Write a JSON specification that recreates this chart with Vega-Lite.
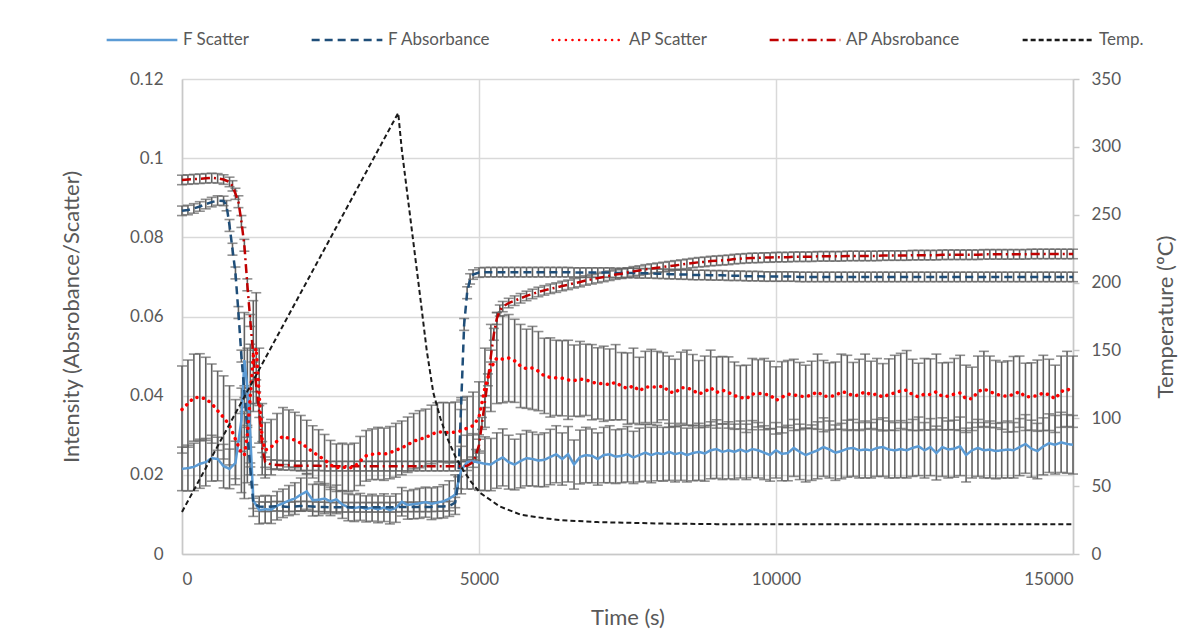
{
"$schema": "https://vega.github.io/schema/vega-lite/v6.json",
"width": 891, "height": 475,
"autosize": "none",
"padding": {"left": 182, "top": 79, "right": 118, "bottom": 79},
"background": "white",
"config": {
  "view": {"stroke": null},
  "font": "Lato",
  "axis": {"labelFont": "Lato", "titleFont": "Lato", "labelFontSize": 17, "labelColor": "#595959", "titleFontSize": 22, "titleFontWeight": "normal", "titleColor": "#595959", "gridColor": "#d9d9d9", "gridWidth": 1.5, "domainColor": "#c8c8c8", "domainWidth": 1.5, "tickColor": "#c8c8c8", "tickWidth": 1.5},
  "legend": {"orient": "none", "legendX": -77, "legendY": -76, "direction": "horizontal", "symbolType": "stroke", "symbolSize": 5000, "symbolStrokeWidth": 2.5, "labelFontSize": 17, "labelColor": "#595959", "labelFont": "Lato", "columnPadding": 56, "labelOffset": 4, "padding": 0, "title": null}
},
"data": {"values": [
{"t":0,"s":"FS","v":0.0215,"e":0.0055},{"t":100,"s":"FS","v":0.0217,"e":0.0058},{"t":200,"s":"FS","v":0.022,"e":0.006},{"t":300,"s":"FS","v":0.0228,"e":0.0062},{"t":400,"s":"FS","v":0.0232,"e":0.006},{"t":500,"s":"FS","v":0.0242,"e":0.0058},{"t":600,"s":"FS","v":0.024,"e":0.0055},{"t":700,"s":"FS","v":0.0222,"e":0.0055},{"t":800,"s":"FS","v":0.0215,"e":0.005},{"t":900,"s":"FS","v":0.023,"e":0.0055},{"t":1000,"s":"FS","v":0.0339,"e":0.008},{"t":1050,"s":"FS","v":0.049,"e":0.012},{"t":1100,"s":"FS","v":0.042,"e":0.01},{"t":1150,"s":"FS","v":0.03,"e":0.008},{"t":1200,"s":"FS","v":0.0135,"e":0.004},{"t":1300,"s":"FS","v":0.0111,"e":0.0035},{"t":1400,"s":"FS","v":0.0113,"e":0.0035},{"t":1500,"s":"FS","v":0.0112,"e":0.0035},{"t":1600,"s":"FS","v":0.0122,"e":0.0036},{"t":1700,"s":"FS","v":0.0128,"e":0.0036},{"t":1800,"s":"FS","v":0.0135,"e":0.0038},{"t":1900,"s":"FS","v":0.014,"e":0.004},{"t":2000,"s":"FS","v":0.015,"e":0.0042},{"t":2100,"s":"FS","v":0.0158,"e":0.0045},{"t":2200,"s":"FS","v":0.0136,"e":0.004},{"t":2300,"s":"FS","v":0.0137,"e":0.004},{"t":2400,"s":"FS","v":0.014,"e":0.0038},{"t":2500,"s":"FS","v":0.0133,"e":0.0036},{"t":2600,"s":"FS","v":0.0138,"e":0.0036},{"t":2700,"s":"FS","v":0.0125,"e":0.0035},{"t":2800,"s":"FS","v":0.0118,"e":0.0034},{"t":2900,"s":"FS","v":0.0116,"e":0.0034},{"t":3000,"s":"FS","v":0.0119,"e":0.0034},{"t":3100,"s":"FS","v":0.0114,"e":0.0033},{"t":3200,"s":"FS","v":0.0117,"e":0.0034},{"t":3300,"s":"FS","v":0.0113,"e":0.0034},{"t":3400,"s":"FS","v":0.0117,"e":0.0035},{"t":3500,"s":"FS","v":0.0111,"e":0.0035},{"t":3600,"s":"FS","v":0.0116,"e":0.0036},{"t":3700,"s":"FS","v":0.0132,"e":0.0036},{"t":3800,"s":"FS","v":0.0124,"e":0.0036},{"t":3900,"s":"FS","v":0.0126,"e":0.0037},{"t":4000,"s":"FS","v":0.0128,"e":0.0038},{"t":4100,"s":"FS","v":0.0131,"e":0.0038},{"t":4200,"s":"FS","v":0.0127,"e":0.004},{"t":4300,"s":"FS","v":0.013,"e":0.004},{"t":4400,"s":"FS","v":0.0133,"e":0.0042},{"t":4500,"s":"FS","v":0.014,"e":0.0045},{"t":4600,"s":"FS","v":0.015,"e":0.005},{"t":4700,"s":"FS","v":0.0212,"e":0.006},
{"t":4800,"s":"FS","v":0.0232,"e":0.0068},{"t":4900,"s":"FS","v":0.0234,"e":0.007},{"t":5000,"s":"FS","v":0.0231,"e":0.007},{"t":5100,"s":"FS","v":0.0228,"e":0.0068},{"t":5200,"s":"FS","v":0.0226,"e":0.0066},{"t":5300,"s":"FS","v":0.0236,"e":0.007},{"t":5400,"s":"FS","v":0.0244,"e":0.0072},{"t":5500,"s":"FS","v":0.0232,"e":0.0068},{"t":5600,"s":"FS","v":0.0226,"e":0.0064},{"t":5700,"s":"FS","v":0.0235,"e":0.0068},{"t":5800,"s":"FS","v":0.0242,"e":0.007},{"t":5900,"s":"FS","v":0.024,"e":0.0068},{"t":6000,"s":"FS","v":0.0236,"e":0.0066},{"t":6100,"s":"FS","v":0.0238,"e":0.0068},{"t":6200,"s":"FS","v":0.0245,"e":0.007},{"t":6300,"s":"FS","v":0.0252,"e":0.0072},{"t":6400,"s":"FS","v":0.024,"e":0.0066},{"t":6500,"s":"FS","v":0.0252,"e":0.007},{"t":6600,"s":"FS","v":0.0226,"e":0.0062},{"t":6700,"s":"FS","v":0.0245,"e":0.0068},{"t":6800,"s":"FS","v":0.025,"e":0.007},{"t":6900,"s":"FS","v":0.0248,"e":0.0068},{"t":7000,"s":"FS","v":0.024,"e":0.0066},{"t":7100,"s":"FS","v":0.025,"e":0.007},{"t":7200,"s":"FS","v":0.0252,"e":0.0072},{"t":7300,"s":"FS","v":0.0246,"e":0.0068},{"t":7400,"s":"FS","v":0.0248,"e":0.0068},{"t":7500,"s":"FS","v":0.0252,"e":0.007},{"t":7600,"s":"FS","v":0.0244,"e":0.0066},{"t":7700,"s":"FS","v":0.025,"e":0.0068},{"t":7800,"s":"FS","v":0.0256,"e":0.0072},{"t":7900,"s":"FS","v":0.025,"e":0.007},{"t":8000,"s":"FS","v":0.0255,"e":0.007},{"t":8100,"s":"FS","v":0.0252,"e":0.0068},{"t":8200,"s":"FS","v":0.0258,"e":0.0072},{"t":8300,"s":"FS","v":0.0252,"e":0.007},{"t":8400,"s":"FS","v":0.0256,"e":0.007},{"t":8500,"s":"FS","v":0.025,"e":0.0068},{"t":8600,"s":"FS","v":0.0255,"e":0.007},{"t":8700,"s":"FS","v":0.0258,"e":0.0072},{"t":8800,"s":"FS","v":0.0254,"e":0.007},{"t":8900,"s":"FS","v":0.0262,"e":0.0072},{"t":9000,"s":"FS","v":0.0265,"e":0.0074},{"t":9100,"s":"FS","v":0.0258,"e":0.007},{"t":9200,"s":"FS","v":0.0262,"e":0.0072},{"t":9300,"s":"FS","v":0.0258,"e":0.007},{"t":9400,"s":"FS","v":0.0264,"e":0.0072},{"t":9500,"s":"FS","v":0.0258,"e":0.007},{"t":9600,"s":"FS","v":0.0265,"e":0.0072},{"t":9700,"s":"FS","v":0.0262,"e":0.007},{"t":9800,"s":"FS","v":0.0256,"e":0.0068},{"t":9900,"s":"FS","v":0.025,"e":0.0066},{"t":10000,"s":"FS","v":0.0262,"e":0.007},{"t":10100,"s":"FS","v":0.0253,"e":0.0068},{"t":10200,"s":"FS","v":0.0255,"e":0.007},{"t":10300,"s":"FS","v":0.0268,"e":0.0072},{"t":10400,"s":"FS","v":0.0258,"e":0.007},{"t":10500,"s":"FS","v":0.025,"e":0.0068},{"t":10600,"s":"FS","v":0.0256,"e":0.007},{"t":10700,"s":"FS","v":0.0262,"e":0.0072},{"t":10800,"s":"FS","v":0.027,"e":0.0074},{"t":10900,"s":"FS","v":0.0264,"e":0.0072},{"t":11000,"s":"FS","v":0.0256,"e":0.007},{"t":11100,"s":"FS","v":0.026,"e":0.007},{"t":11200,"s":"FS","v":0.0266,"e":0.0072},{"t":11300,"s":"FS","v":0.0268,"e":0.0072},{"t":11400,"s":"FS","v":0.0262,"e":0.007},{"t":11500,"s":"FS","v":0.0264,"e":0.0072},{"t":11600,"s":"FS","v":0.0262,"e":0.007},{"t":11700,"s":"FS","v":0.0268,"e":0.0072},{"t":11800,"s":"FS","v":0.027,"e":0.0074},{"t":11900,"s":"FS","v":0.0264,"e":0.0072},{"t":12000,"s":"FS","v":0.0262,"e":0.007},{"t":12100,"s":"FS","v":0.0265,"e":0.0072},{"t":12200,"s":"FS","v":0.0262,"e":0.007},{"t":12300,"s":"FS","v":0.0268,"e":0.0072},{"t":12400,"s":"FS","v":0.0272,"e":0.0074},{"t":12500,"s":"FS","v":0.0262,"e":0.007},{"t":12600,"s":"FS","v":0.027,"e":0.0072},{"t":12700,"s":"FS","v":0.0255,"e":0.0068},{"t":12800,"s":"FS","v":0.027,"e":0.0074},{"t":12900,"s":"FS","v":0.0264,"e":0.0072},{"t":13000,"s":"FS","v":0.0266,"e":0.0072},{"t":13100,"s":"FS","v":0.0272,"e":0.0074},{"t":13200,"s":"FS","v":0.025,"e":0.0068},{"t":13300,"s":"FS","v":0.0262,"e":0.007},{"t":13400,"s":"FS","v":0.0268,"e":0.0072},{"t":13500,"s":"FS","v":0.0262,"e":0.007},{"t":13600,"s":"FS","v":0.0264,"e":0.0072},{"t":13700,"s":"FS","v":0.026,"e":0.007},{"t":13800,"s":"FS","v":0.0262,"e":0.007},{"t":13900,"s":"FS","v":0.0264,"e":0.0072},{"t":14000,"s":"FS","v":0.0262,"e":0.007},{"t":14100,"s":"FS","v":0.027,"e":0.0072},{"t":14200,"s":"FS","v":0.0278,"e":0.0074},{"t":14300,"s":"FS","v":0.0266,"e":0.0072},{"t":14400,"s":"FS","v":0.026,"e":0.007},{"t":14500,"s":"FS","v":0.0272,"e":0.0072},{"t":14600,"s":"FS","v":0.028,"e":0.0074},{"t":14700,"s":"FS","v":0.0276,"e":0.0074},{"t":14800,"s":"FS","v":0.0282,"e":0.0076},{"t":14900,"s":"FS","v":0.0278,"e":0.0074},{"t":15000,"s":"FS","v":0.0276,"e":0.0074},
{"t":0,"s":"FA","v":0.0867,"e":0.0012},{"t":100,"s":"FA","v":0.0869,"e":0.0012},{"t":200,"s":"FA","v":0.0873,"e":0.0012},{"t":300,"s":"FA","v":0.0878,"e":0.0012},{"t":400,"s":"FA","v":0.0884,"e":0.0012},{"t":500,"s":"FA","v":0.0889,"e":0.0012},{"t":600,"s":"FA","v":0.0893,"e":0.0012},{"t":700,"s":"FA","v":0.0892,"e":0.0012},{"t":750,"s":"FA","v":0.088,"e":0.0013},{"t":800,"s":"FA","v":0.083,"e":0.0015},{"t":850,"s":"FA","v":0.077,"e":0.0015},{"t":900,"s":"FA","v":0.071,"e":0.0015},{"t":950,"s":"FA","v":0.061,"e":0.0015},{"t":1000,"s":"FA","v":0.05,"e":0.0015},{"t":1050,"s":"FA","v":0.041,"e":0.0015},{"t":1100,"s":"FA","v":0.031,"e":0.0015},{"t":1150,"s":"FA","v":0.0215,"e":0.0015},{"t":1200,"s":"FA","v":0.0128,"e":0.0013},{"t":1300,"s":"FA","v":0.012,"e":0.0012},{"t":1400,"s":"FA","v":0.0119,"e":0.0012},{"t":1500,"s":"FA","v":0.012,"e":0.0012},{"t":1600,"s":"FA","v":0.0121,"e":0.0012},{"t":1700,"s":"FA","v":0.012,"e":0.0012},{"t":1800,"s":"FA","v":0.0119,"e":0.0012},{"t":1900,"s":"FA","v":0.012,"e":0.0012},{"t":2000,"s":"FA","v":0.0121,"e":0.0012},{"t":2100,"s":"FA","v":0.0121,"e":0.0012},{"t":2200,"s":"FA","v":0.012,"e":0.0012},{"t":2300,"s":"FA","v":0.0119,"e":0.0012},{"t":2400,"s":"FA","v":0.0119,"e":0.0012},{"t":2500,"s":"FA","v":0.0118,"e":0.0012},{"t":2600,"s":"FA","v":0.0118,"e":0.0012},{"t":2700,"s":"FA","v":0.0118,"e":0.0012},{"t":2800,"s":"FA","v":0.0118,"e":0.0012},{"t":2900,"s":"FA","v":0.0118,"e":0.0012},{"t":3000,"s":"FA","v":0.0118,"e":0.0012},{"t":3100,"s":"FA","v":0.0118,"e":0.0012},{"t":3200,"s":"FA","v":0.0118,"e":0.0012},{"t":3300,"s":"FA","v":0.0118,"e":0.0012},{"t":3400,"s":"FA","v":0.0118,"e":0.0012},{"t":3500,"s":"FA","v":0.0118,"e":0.0012},{"t":3600,"s":"FA","v":0.0118,"e":0.0012},{"t":3700,"s":"FA","v":0.0119,"e":0.0012},{"t":3800,"s":"FA","v":0.0119,"e":0.0012},{"t":3900,"s":"FA","v":0.0119,"e":0.0012},{"t":4000,"s":"FA","v":0.0119,"e":0.0012},{"t":4100,"s":"FA","v":0.0119,"e":0.0012},{"t":4200,"s":"FA","v":0.0119,"e":0.0012},{"t":4300,"s":"FA","v":0.012,"e":0.0012},{"t":4400,"s":"FA","v":0.012,"e":0.0012},{"t":4500,"s":"FA","v":0.0121,"e":0.0012},{"t":4600,"s":"FA","v":0.013,"e":0.0013},{"t":4650,"s":"FA","v":0.018,"e":0.0015},{"t":4700,"s":"FA","v":0.038,"e":0.0015},{"t":4750,"s":"FA","v":0.058,"e":0.0015},{"t":4800,"s":"FA","v":0.066,"e":0.0015},{"t":4850,"s":"FA","v":0.0695,"e":0.0013},{"t":4900,"s":"FA","v":0.0706,"e":0.0012},{"t":5000,"s":"FA","v":0.0711,"e":0.0012},{"t":5100,"s":"FA","v":0.0712,"e":0.0012},{"t":5200,"s":"FA","v":0.0712,"e":0.0012},{"t":5300,"s":"FA","v":0.0712,"e":0.0012},{"t":5400,"s":"FA","v":0.0712,"e":0.0012},{"t":5500,"s":"FA","v":0.0712,"e":0.0012},{"t":5600,"s":"FA","v":0.0712,"e":0.0012},{"t":5700,"s":"FA","v":0.0712,"e":0.0012},{"t":5800,"s":"FA","v":0.0712,"e":0.0012},{"t":5900,"s":"FA","v":0.0712,"e":0.0012},{"t":6000,"s":"FA","v":0.0712,"e":0.0012},{"t":6100,"s":"FA","v":0.0712,"e":0.0012},{"t":6200,"s":"FA","v":0.0712,"e":0.0012},{"t":6300,"s":"FA","v":0.0712,"e":0.0012},{"t":6400,"s":"FA","v":0.0712,"e":0.0012},{"t":6500,"s":"FA","v":0.0712,"e":0.0012},{"t":6600,"s":"FA","v":0.0711,"e":0.0012},{"t":6700,"s":"FA","v":0.0711,"e":0.0012},{"t":6800,"s":"FA","v":0.0711,"e":0.0012},{"t":6900,"s":"FA","v":0.0711,"e":0.0012},{"t":7000,"s":"FA","v":0.0711,"e":0.0012},{"t":7100,"s":"FA","v":0.0711,"e":0.0012},{"t":7200,"s":"FA","v":0.0711,"e":0.0012},{"t":7300,"s":"FA","v":0.071,"e":0.0012},{"t":7400,"s":"FA","v":0.071,"e":0.0012},{"t":7500,"s":"FA","v":0.071,"e":0.0012},{"t":7600,"s":"FA","v":0.071,"e":0.0012},{"t":7700,"s":"FA","v":0.0709,"e":0.0012},{"t":7800,"s":"FA","v":0.0709,"e":0.0012},{"t":7900,"s":"FA","v":0.0709,"e":0.0012},{"t":8000,"s":"FA","v":0.0708,"e":0.0012},{"t":8100,"s":"FA","v":0.0708,"e":0.0012},{"t":8200,"s":"FA","v":0.0707,"e":0.0012},{"t":8300,"s":"FA","v":0.0707,"e":0.0012},{"t":8400,"s":"FA","v":0.0706,"e":0.0012},{"t":8500,"s":"FA","v":0.0706,"e":0.0012},{"t":8600,"s":"FA","v":0.0705,"e":0.0012},{"t":8700,"s":"FA","v":0.0705,"e":0.0012},{"t":8800,"s":"FA","v":0.0705,"e":0.0012},{"t":8900,"s":"FA","v":0.0704,"e":0.0012},{"t":9000,"s":"FA","v":0.0704,"e":0.0012},{"t":9100,"s":"FA","v":0.0704,"e":0.0012},{"t":9200,"s":"FA","v":0.0703,"e":0.0012},{"t":9300,"s":"FA","v":0.0703,"e":0.0012},{"t":9400,"s":"FA","v":0.0703,"e":0.0012},{"t":9500,"s":"FA","v":0.0702,"e":0.0012},{"t":9600,"s":"FA","v":0.0702,"e":0.0012},{"t":9700,"s":"FA","v":0.0702,"e":0.0012},{"t":9800,"s":"FA","v":0.0701,"e":0.0012},{"t":9900,"s":"FA","v":0.0701,"e":0.0012},{"t":10000,"s":"FA","v":0.0701,"e":0.0012},{"t":10100,"s":"FA","v":0.0701,"e":0.0012},{"t":10200,"s":"FA","v":0.0701,"e":0.0012},{"t":10300,"s":"FA","v":0.0701,"e":0.0012},{"t":10400,"s":"FA","v":0.07,"e":0.0012},{"t":10500,"s":"FA","v":0.07,"e":0.0012},{"t":10600,"s":"FA","v":0.07,"e":0.0012},{"t":10700,"s":"FA","v":0.07,"e":0.0012},{"t":10800,"s":"FA","v":0.07,"e":0.0012},{"t":10900,"s":"FA","v":0.07,"e":0.0012},{"t":11000,"s":"FA","v":0.07,"e":0.0012},{"t":11100,"s":"FA","v":0.07,"e":0.0012},{"t":11200,"s":"FA","v":0.07,"e":0.0012},{"t":11300,"s":"FA","v":0.07,"e":0.0012},{"t":11400,"s":"FA","v":0.07,"e":0.0012},{"t":11500,"s":"FA","v":0.07,"e":0.0012},{"t":11600,"s":"FA","v":0.07,"e":0.0012},{"t":11700,"s":"FA","v":0.07,"e":0.0012},{"t":11800,"s":"FA","v":0.07,"e":0.0012},{"t":11900,"s":"FA","v":0.07,"e":0.0012},{"t":12000,"s":"FA","v":0.07,"e":0.0012},{"t":12100,"s":"FA","v":0.07,"e":0.0012},{"t":12200,"s":"FA","v":0.07,"e":0.0012},{"t":12300,"s":"FA","v":0.07,"e":0.0012},{"t":12400,"s":"FA","v":0.07,"e":0.0012},{"t":12500,"s":"FA","v":0.07,"e":0.0012},{"t":12600,"s":"FA","v":0.07,"e":0.0012},{"t":12700,"s":"FA","v":0.07,"e":0.0012},{"t":12800,"s":"FA","v":0.07,"e":0.0012},{"t":12900,"s":"FA","v":0.07,"e":0.0012},{"t":13000,"s":"FA","v":0.07,"e":0.0012},{"t":13100,"s":"FA","v":0.07,"e":0.0012},{"t":13200,"s":"FA","v":0.07,"e":0.0012},{"t":13300,"s":"FA","v":0.07,"e":0.0012},{"t":13400,"s":"FA","v":0.07,"e":0.0012},{"t":13500,"s":"FA","v":0.07,"e":0.0012},{"t":13600,"s":"FA","v":0.07,"e":0.0012},{"t":13700,"s":"FA","v":0.07,"e":0.0012},{"t":13800,"s":"FA","v":0.07,"e":0.0012},{"t":13900,"s":"FA","v":0.07,"e":0.0012},{"t":14000,"s":"FA","v":0.07,"e":0.0012},{"t":14100,"s":"FA","v":0.07,"e":0.0012},{"t":14200,"s":"FA","v":0.07,"e":0.0012},{"t":14300,"s":"FA","v":0.07,"e":0.0012},{"t":14400,"s":"FA","v":0.07,"e":0.0012},{"t":14500,"s":"FA","v":0.07,"e":0.0012},{"t":14600,"s":"FA","v":0.07,"e":0.0012},{"t":14700,"s":"FA","v":0.07,"e":0.0012},{"t":14800,"s":"FA","v":0.07,"e":0.0012},{"t":14900,"s":"FA","v":0.07,"e":0.0012},{"t":15000,"s":"FA","v":0.07,"e":0.0012},
{"t":0,"s":"AS","v":0.0365,"e":0.011},{"t":100,"s":"AS","v":0.038,"e":0.011},{"t":200,"s":"AS","v":0.0395,"e":0.011},{"t":300,"s":"AS","v":0.0396,"e":0.011},{"t":400,"s":"AS","v":0.0392,"e":0.0105},{"t":500,"s":"AS","v":0.038,"e":0.01},{"t":600,"s":"AS","v":0.0362,"e":0.01},{"t":700,"s":"AS","v":0.0345,"e":0.0105},{"t":800,"s":"AS","v":0.0325,"e":0.01},{"t":900,"s":"AS","v":0.029,"e":0.01},{"t":1000,"s":"AS","v":0.0255,"e":0.01},{"t":1050,"s":"AS","v":0.025,"e":0.011},{"t":1100,"s":"AS","v":0.03,"e":0.012},{"t":1150,"s":"AS","v":0.04,"e":0.013},{"t":1200,"s":"AS","v":0.05,"e":0.014},{"t":1250,"s":"AS","v":0.052,"e":0.014},{"t":1300,"s":"AS","v":0.04,"e":0.012},{"t":1350,"s":"AS","v":0.029,"e":0.009},{"t":1400,"s":"AS","v":0.0262,"e":0.007},{"t":1500,"s":"AS","v":0.027,"e":0.007},{"t":1600,"s":"AS","v":0.0285,"e":0.007},{"t":1700,"s":"AS","v":0.0298,"e":0.0072},{"t":1800,"s":"AS","v":0.0292,"e":0.0072},{"t":1900,"s":"AS","v":0.0288,"e":0.007},{"t":2000,"s":"AS","v":0.028,"e":0.007},{"t":2100,"s":"AS","v":0.027,"e":0.0068},{"t":2200,"s":"AS","v":0.0258,"e":0.0066},{"t":2300,"s":"AS","v":0.0248,"e":0.0066},{"t":2400,"s":"AS","v":0.0238,"e":0.0064},{"t":2500,"s":"AS","v":0.0225,"e":0.0062},{"t":2600,"s":"AS","v":0.0218,"e":0.006},{"t":2700,"s":"AS","v":0.022,"e":0.006},{"t":2800,"s":"AS","v":0.0217,"e":0.006},{"t":2900,"s":"AS","v":0.022,"e":0.006},{"t":3000,"s":"AS","v":0.0235,"e":0.0062},{"t":3100,"s":"AS","v":0.0248,"e":0.0064},{"t":3200,"s":"AS","v":0.0252,"e":0.0064},{"t":3300,"s":"AS","v":0.0254,"e":0.0066},{"t":3400,"s":"AS","v":0.0252,"e":0.0066},{"t":3500,"s":"AS","v":0.0256,"e":0.0066},{"t":3600,"s":"AS","v":0.0262,"e":0.0068},{"t":3700,"s":"AS","v":0.0268,"e":0.0068},{"t":3800,"s":"AS","v":0.0276,"e":0.007},{"t":3900,"s":"AS","v":0.0285,"e":0.007},{"t":4000,"s":"AS","v":0.029,"e":0.0072},{"t":4100,"s":"AS","v":0.0294,"e":0.0072},{"t":4200,"s":"AS","v":0.0302,"e":0.0074},{"t":4300,"s":"AS","v":0.0308,"e":0.0074},{"t":4400,"s":"AS","v":0.0308,"e":0.0075},{"t":4500,"s":"AS","v":0.0306,"e":0.0076},{"t":4600,"s":"AS","v":0.0308,"e":0.0076},{"t":4700,"s":"AS","v":0.0311,"e":0.0078},{"t":4800,"s":"AS","v":0.0318,"e":0.008},{"t":4900,"s":"AS","v":0.0324,"e":0.0085},{"t":5000,"s":"AS","v":0.0345,"e":0.009},{"t":5100,"s":"AS","v":0.042,"e":0.01},{"t":5200,"s":"AS","v":0.047,"e":0.011},{"t":5300,"s":"AS","v":0.0495,"e":0.0115},{"t":5400,"s":"AS","v":0.0492,"e":0.011},{"t":5500,"s":"AS","v":0.0495,"e":0.011},{"t":5600,"s":"AS","v":0.0488,"e":0.0105},{"t":5700,"s":"AS","v":0.0475,"e":0.0105},{"t":5800,"s":"AS","v":0.0468,"e":0.01},{"t":5900,"s":"AS","v":0.047,"e":0.0105},{"t":6000,"s":"AS","v":0.0462,"e":0.01},{"t":6100,"s":"AS","v":0.045,"e":0.0095},{"t":6200,"s":"AS","v":0.0446,"e":0.01},{"t":6300,"s":"AS","v":0.0445,"e":0.0095},{"t":6400,"s":"AS","v":0.0444,"e":0.0095},{"t":6500,"s":"AS","v":0.044,"e":0.01},{"t":6600,"s":"AS","v":0.0438,"e":0.009},{"t":6700,"s":"AS","v":0.0442,"e":0.0095},{"t":6800,"s":"AS","v":0.044,"e":0.009},{"t":6900,"s":"AS","v":0.0434,"e":0.0095},{"t":7000,"s":"AS","v":0.0431,"e":0.009},{"t":7100,"s":"AS","v":0.043,"e":0.0095},{"t":7200,"s":"AS","v":0.0428,"e":0.009},{"t":7300,"s":"AS","v":0.0434,"e":0.0095},{"t":7400,"s":"AS","v":0.0424,"e":0.0085},{"t":7500,"s":"AS","v":0.0418,"e":0.009},{"t":7600,"s":"AS","v":0.0425,"e":0.0095},{"t":7700,"s":"AS","v":0.0412,"e":0.0085},{"t":7800,"s":"AS","v":0.0422,"e":0.009},{"t":7900,"s":"AS","v":0.0422,"e":0.0095},{"t":8000,"s":"AS","v":0.0422,"e":0.009},{"t":8100,"s":"AS","v":0.0424,"e":0.0085},{"t":8200,"s":"AS","v":0.041,"e":0.009},{"t":8300,"s":"AS","v":0.0407,"e":0.0085},{"t":8400,"s":"AS","v":0.042,"e":0.009},{"t":8500,"s":"AS","v":0.042,"e":0.0095},{"t":8600,"s":"AS","v":0.0414,"e":0.009},{"t":8700,"s":"AS","v":0.0404,"e":0.0085},{"t":8800,"s":"AS","v":0.041,"e":0.009},{"t":8900,"s":"AS","v":0.042,"e":0.0095},{"t":9000,"s":"AS","v":0.0408,"e":0.009},{"t":9100,"s":"AS","v":0.0414,"e":0.0085},{"t":9200,"s":"AS","v":0.0408,"e":0.009},{"t":9300,"s":"AS","v":0.04,"e":0.0085},{"t":9400,"s":"AS","v":0.0396,"e":0.008},{"t":9500,"s":"AS","v":0.0392,"e":0.0085},{"t":9600,"s":"AS","v":0.0404,"e":0.009},{"t":9700,"s":"AS","v":0.0406,"e":0.0085},{"t":9800,"s":"AS","v":0.0404,"e":0.009},{"t":9900,"s":"AS","v":0.0402,"e":0.0085},{"t":10000,"s":"AS","v":0.0388,"e":0.0085},{"t":10100,"s":"AS","v":0.0396,"e":0.009},{"t":10200,"s":"AS","v":0.0404,"e":0.0085},{"t":10300,"s":"AS","v":0.0402,"e":0.009},{"t":10400,"s":"AS","v":0.0399,"e":0.0085},{"t":10500,"s":"AS","v":0.0397,"e":0.008},{"t":10600,"s":"AS","v":0.0402,"e":0.0085},{"t":10700,"s":"AS","v":0.041,"e":0.0095},{"t":10800,"s":"AS","v":0.0399,"e":0.009},{"t":10900,"s":"AS","v":0.0398,"e":0.0085},{"t":11000,"s":"AS","v":0.04,"e":0.0085},{"t":11100,"s":"AS","v":0.041,"e":0.0095},{"t":11200,"s":"AS","v":0.0407,"e":0.0095},{"t":11300,"s":"AS","v":0.0399,"e":0.0085},{"t":11400,"s":"AS","v":0.0402,"e":0.009},{"t":11500,"s":"AS","v":0.041,"e":0.0095},{"t":11600,"s":"AS","v":0.0402,"e":0.0085},{"t":11700,"s":"AS","v":0.0404,"e":0.009},{"t":11800,"s":"AS","v":0.0396,"e":0.0085},{"t":11900,"s":"AS","v":0.0403,"e":0.009},{"t":12000,"s":"AS","v":0.0407,"e":0.0095},{"t":12100,"s":"AS","v":0.0412,"e":0.0095},{"t":12200,"s":"AS","v":0.0414,"e":0.01},{"t":12300,"s":"AS","v":0.0402,"e":0.009},{"t":12400,"s":"AS","v":0.0397,"e":0.0085},{"t":12500,"s":"AS","v":0.0404,"e":0.009},{"t":12600,"s":"AS","v":0.0403,"e":0.009},{"t":12700,"s":"AS","v":0.041,"e":0.0095},{"t":12800,"s":"AS","v":0.0398,"e":0.0085},{"t":12900,"s":"AS","v":0.0399,"e":0.0085},{"t":13000,"s":"AS","v":0.0404,"e":0.009},{"t":13100,"s":"AS","v":0.0407,"e":0.0095},{"t":13200,"s":"AS","v":0.0392,"e":0.0085},{"t":13300,"s":"AS","v":0.0392,"e":0.008},{"t":13400,"s":"AS","v":0.041,"e":0.009},{"t":13500,"s":"AS","v":0.0417,"e":0.0095},{"t":13600,"s":"AS","v":0.041,"e":0.009},{"t":13700,"s":"AS","v":0.0404,"e":0.0085},{"t":13800,"s":"AS","v":0.04,"e":0.0085},{"t":13900,"s":"AS","v":0.0398,"e":0.009},{"t":14000,"s":"AS","v":0.0404,"e":0.0095},{"t":14100,"s":"AS","v":0.041,"e":0.009},{"t":14200,"s":"AS","v":0.0397,"e":0.0085},{"t":14300,"s":"AS","v":0.0398,"e":0.0085},{"t":14400,"s":"AS","v":0.04,"e":0.009},{"t":14500,"s":"AS","v":0.0407,"e":0.0095},{"t":14600,"s":"AS","v":0.0402,"e":0.009},{"t":14700,"s":"AS","v":0.0392,"e":0.0085},{"t":14800,"s":"AS","v":0.041,"e":0.009},{"t":14900,"s":"AS","v":0.0417,"e":0.0095},{"t":15000,"s":"AS","v":0.041,"e":0.009},
{"t":0,"s":"AA","v":0.0945,"e":0.0012},{"t":100,"s":"AA","v":0.0946,"e":0.0012},{"t":200,"s":"AA","v":0.0947,"e":0.0012},{"t":300,"s":"AA","v":0.0948,"e":0.0012},{"t":400,"s":"AA","v":0.0949,"e":0.0012},{"t":500,"s":"AA","v":0.095,"e":0.0012},{"t":600,"s":"AA","v":0.0949,"e":0.0012},{"t":700,"s":"AA","v":0.0946,"e":0.0012},{"t":800,"s":"AA","v":0.094,"e":0.0012},{"t":850,"s":"AA","v":0.093,"e":0.0013},{"t":900,"s":"AA","v":0.091,"e":0.0014},{"t":950,"s":"AA","v":0.089,"e":0.0015},{"t":1000,"s":"AA","v":0.084,"e":0.0015},{"t":1050,"s":"AA","v":0.078,"e":0.0015},{"t":1100,"s":"AA","v":0.068,"e":0.0015},{"t":1150,"s":"AA","v":0.059,"e":0.0015},{"t":1200,"s":"AA","v":0.05,"e":0.0015},{"t":1250,"s":"AA","v":0.0425,"e":0.0015},{"t":1300,"s":"AA","v":0.036,"e":0.0015},{"t":1350,"s":"AA","v":0.027,"e":0.0014},{"t":1400,"s":"AA","v":0.0232,"e":0.0013},{"t":1500,"s":"AA","v":0.0226,"e":0.0012},{"t":1600,"s":"AA","v":0.0225,"e":0.0012},{"t":1700,"s":"AA","v":0.0224,"e":0.0012},{"t":1800,"s":"AA","v":0.0224,"e":0.0012},{"t":1900,"s":"AA","v":0.0223,"e":0.0012},{"t":2000,"s":"AA","v":0.0223,"e":0.0012},{"t":2100,"s":"AA","v":0.0223,"e":0.0012},{"t":2200,"s":"AA","v":0.0223,"e":0.0012},{"t":2300,"s":"AA","v":0.0223,"e":0.0012},{"t":2400,"s":"AA","v":0.0222,"e":0.0012},{"t":2500,"s":"AA","v":0.0222,"e":0.0012},{"t":2600,"s":"AA","v":0.0222,"e":0.0012},{"t":2700,"s":"AA","v":0.0222,"e":0.0012},{"t":2800,"s":"AA","v":0.0222,"e":0.0012},{"t":2900,"s":"AA","v":0.0222,"e":0.0012},{"t":3000,"s":"AA","v":0.0222,"e":0.0012},{"t":3100,"s":"AA","v":0.0222,"e":0.0012},{"t":3200,"s":"AA","v":0.0222,"e":0.0012},{"t":3300,"s":"AA","v":0.0222,"e":0.0012},{"t":3400,"s":"AA","v":0.0222,"e":0.0012},{"t":3500,"s":"AA","v":0.0222,"e":0.0012},{"t":3600,"s":"AA","v":0.0222,"e":0.0012},{"t":3700,"s":"AA","v":0.0222,"e":0.0012},{"t":3800,"s":"AA","v":0.0222,"e":0.0012},{"t":3900,"s":"AA","v":0.0222,"e":0.0012},{"t":4000,"s":"AA","v":0.0222,"e":0.0012},{"t":4100,"s":"AA","v":0.0222,"e":0.0012},{"t":4200,"s":"AA","v":0.0222,"e":0.0012},{"t":4300,"s":"AA","v":0.0222,"e":0.0012},{"t":4400,"s":"AA","v":0.0222,"e":0.0012},{"t":4500,"s":"AA","v":0.0222,"e":0.0012},{"t":4600,"s":"AA","v":0.0222,"e":0.0012},{"t":4700,"s":"AA","v":0.0222,"e":0.0012},{"t":4800,"s":"AA","v":0.0223,"e":0.0012},{"t":4900,"s":"AA","v":0.0232,"e":0.0013},{"t":4950,"s":"AA","v":0.025,"e":0.0014},{"t":5000,"s":"AA","v":0.0275,"e":0.0015},{"t":5050,"s":"AA","v":0.033,"e":0.0015},{"t":5100,"s":"AA","v":0.0385,"e":0.0015},{"t":5150,"s":"AA","v":0.044,"e":0.0015},{"t":5200,"s":"AA","v":0.05,"e":0.0015},{"t":5250,"s":"AA","v":0.0555,"e":0.0015},{"t":5300,"s":"AA","v":0.0595,"e":0.0015},{"t":5350,"s":"AA","v":0.0615,"e":0.0014},{"t":5400,"s":"AA","v":0.0625,"e":0.0013},{"t":5500,"s":"AA","v":0.0634,"e":0.0012},{"t":5600,"s":"AA","v":0.064,"e":0.0012},{"t":5700,"s":"AA","v":0.0646,"e":0.0012},{"t":5800,"s":"AA","v":0.0652,"e":0.0012},{"t":5900,"s":"AA","v":0.0657,"e":0.0012},{"t":6000,"s":"AA","v":0.0662,"e":0.0012},{"t":6100,"s":"AA","v":0.0666,"e":0.0012},{"t":6200,"s":"AA","v":0.067,"e":0.0012},{"t":6300,"s":"AA","v":0.0673,"e":0.0012},{"t":6400,"s":"AA","v":0.0677,"e":0.0012},{"t":6500,"s":"AA","v":0.068,"e":0.0012},{"t":6600,"s":"AA","v":0.0684,"e":0.0012},{"t":6700,"s":"AA","v":0.0687,"e":0.0012},{"t":6800,"s":"AA","v":0.0691,"e":0.0012},{"t":6900,"s":"AA","v":0.0694,"e":0.0012},{"t":7000,"s":"AA","v":0.0697,"e":0.0012},{"t":7100,"s":"AA","v":0.07,"e":0.0012},{"t":7200,"s":"AA","v":0.0703,"e":0.0012},{"t":7300,"s":"AA","v":0.0706,"e":0.0012},{"t":7400,"s":"AA","v":0.0708,"e":0.0012},{"t":7500,"s":"AA","v":0.0711,"e":0.0012},{"t":7600,"s":"AA","v":0.0714,"e":0.0012},{"t":7700,"s":"AA","v":0.0716,"e":0.0012},{"t":7800,"s":"AA","v":0.0719,"e":0.0012},{"t":7900,"s":"AA","v":0.0721,"e":0.0012},{"t":8000,"s":"AA","v":0.0723,"e":0.0012},{"t":8100,"s":"AA","v":0.0725,"e":0.0012},{"t":8200,"s":"AA","v":0.0727,"e":0.0012},{"t":8300,"s":"AA","v":0.0729,"e":0.0012},{"t":8400,"s":"AA","v":0.0731,"e":0.0012},{"t":8500,"s":"AA","v":0.0733,"e":0.0012},{"t":8600,"s":"AA","v":0.0735,"e":0.0012},{"t":8700,"s":"AA","v":0.0737,"e":0.0012},{"t":8800,"s":"AA","v":0.0738,"e":0.0012},{"t":8900,"s":"AA","v":0.074,"e":0.0012},{"t":9000,"s":"AA","v":0.0741,"e":0.0012},{"t":9100,"s":"AA","v":0.0742,"e":0.0012},{"t":9200,"s":"AA","v":0.0743,"e":0.0012},{"t":9300,"s":"AA","v":0.0745,"e":0.0012},{"t":9400,"s":"AA","v":0.0746,"e":0.0012},{"t":9500,"s":"AA","v":0.0747,"e":0.0012},{"t":9600,"s":"AA","v":0.0748,"e":0.0012},{"t":9700,"s":"AA","v":0.0748,"e":0.0012},{"t":9800,"s":"AA","v":0.0749,"e":0.0012},{"t":9900,"s":"AA","v":0.0749,"e":0.0012},{"t":10000,"s":"AA","v":0.075,"e":0.0012},{"t":10100,"s":"AA","v":0.075,"e":0.0012},{"t":10200,"s":"AA","v":0.075,"e":0.0012},{"t":10300,"s":"AA","v":0.0751,"e":0.0012},{"t":10400,"s":"AA","v":0.0751,"e":0.0012},{"t":10500,"s":"AA","v":0.0751,"e":0.0012},{"t":10600,"s":"AA","v":0.0751,"e":0.0012},{"t":10700,"s":"AA","v":0.0752,"e":0.0012},{"t":10800,"s":"AA","v":0.0752,"e":0.0012},{"t":10900,"s":"AA","v":0.0752,"e":0.0012},{"t":11000,"s":"AA","v":0.0752,"e":0.0012},{"t":11100,"s":"AA","v":0.0752,"e":0.0012},{"t":11200,"s":"AA","v":0.0753,"e":0.0012},{"t":11300,"s":"AA","v":0.0753,"e":0.0012},{"t":11400,"s":"AA","v":0.0753,"e":0.0012},{"t":11500,"s":"AA","v":0.0753,"e":0.0012},{"t":11600,"s":"AA","v":0.0753,"e":0.0012},{"t":11700,"s":"AA","v":0.0753,"e":0.0012},{"t":11800,"s":"AA","v":0.0754,"e":0.0012},{"t":11900,"s":"AA","v":0.0754,"e":0.0012},{"t":12000,"s":"AA","v":0.0754,"e":0.0012},{"t":12100,"s":"AA","v":0.0754,"e":0.0012},{"t":12200,"s":"AA","v":0.0754,"e":0.0012},{"t":12300,"s":"AA","v":0.0755,"e":0.0012},{"t":12400,"s":"AA","v":0.0755,"e":0.0012},{"t":12500,"s":"AA","v":0.0755,"e":0.0012},{"t":12600,"s":"AA","v":0.0755,"e":0.0012},{"t":12700,"s":"AA","v":0.0755,"e":0.0012},{"t":12800,"s":"AA","v":0.0756,"e":0.0012},{"t":12900,"s":"AA","v":0.0756,"e":0.0012},{"t":13000,"s":"AA","v":0.0756,"e":0.0012},{"t":13100,"s":"AA","v":0.0756,"e":0.0012},{"t":13200,"s":"AA","v":0.0756,"e":0.0012},{"t":13300,"s":"AA","v":0.0756,"e":0.0012},{"t":13400,"s":"AA","v":0.0756,"e":0.0012},{"t":13500,"s":"AA","v":0.0757,"e":0.0012},{"t":13600,"s":"AA","v":0.0757,"e":0.0012},{"t":13700,"s":"AA","v":0.0757,"e":0.0012},{"t":13800,"s":"AA","v":0.0757,"e":0.0012},{"t":13900,"s":"AA","v":0.0757,"e":0.0012},{"t":14000,"s":"AA","v":0.0757,"e":0.0012},{"t":14100,"s":"AA","v":0.0757,"e":0.0012},{"t":14200,"s":"AA","v":0.0757,"e":0.0012},{"t":14300,"s":"AA","v":0.0758,"e":0.0012},{"t":14400,"s":"AA","v":0.0758,"e":0.0012},{"t":14500,"s":"AA","v":0.0758,"e":0.0012},{"t":14600,"s":"AA","v":0.0758,"e":0.0012},{"t":14700,"s":"AA","v":0.0758,"e":0.0012},{"t":14800,"s":"AA","v":0.0758,"e":0.0012},{"t":14900,"s":"AA","v":0.0758,"e":0.0012},{"t":15000,"s":"AA","v":0.0758,"e":0.0012},
{"t":0,"s":"T","v":31},{"t":3640,"s":"T","v":325},{"t":3700,"s":"T","v":298},{"t":4000,"s":"T","v":193},{"t":4120,"s":"T","v":150},{"t":4230,"s":"T","v":119},{"t":4350,"s":"T","v":100},{"t":4460,"s":"T","v":86},{"t":4600,"s":"T","v":72},{"t":4730,"s":"T","v":62},{"t":4870,"s":"T","v":53},{"t":5020,"s":"T","v":45},{"t":5350,"s":"T","v":35},{"t":5700,"s":"T","v":29},{"t":6000,"s":"T","v":27},{"t":6350,"s":"T","v":25},{"t":7000,"s":"T","v":23.5},{"t":8000,"s":"T","v":22.5},{"t":9000,"s":"T","v":22},{"t":15000,"s":"T","v":22}
]},
"layer": [
  {
    "layer": [
      {
        "transform": [{"filter": "datum.s !== 'T'"}],
        "mark": {"type": "errorbar", "ticks": {"size": 10}, "color": "#616161", "thickness": 1.6},
        "encoding": {
          "x": {"field": "t", "type": "quantitative", "scale": {"domain": [0, 15000], "nice": false},
                "axis": {"values": [0, 5000, 10000, 15000], "format": "d", "grid": true, "ticks": false, "labelPadding": 17, "title": "Time (s)", "titlePadding": 20}},
          "y": {"field": "v", "type": "quantitative", "scale": {"domain": [0, 0.12], "nice": false},
                "axis": {"values": [0, 0.02, 0.04, 0.06, 0.08, 0.1, 0.12], "format": ".2~f", "grid": true, "ticks": false, "labelPadding": 19, "title": "Intensity (Absrobance/Scatter)", "titlePadding": 46}},
          "yError": {"field": "e"}
        }
      },
      {
        "transform": [{"filter": "datum.s === 'FS' || datum.s === 'FA' || datum.s === 'AA'"}],
        "mark": {"type": "line", "strokeWidth": 2.5},
        "encoding": {
          "x": {"field": "t", "type": "quantitative"},
          "y": {"field": "v", "type": "quantitative"},
          "color": {"field": "s", "type": "nominal", "scale": {"domain": ["FS", "FA", "AS", "AA", "T"], "range": ["#5B9BD5", "#1F4E79", "#FF0000", "#C00000", "#1a1a1a"]},
                    "legend": {"labelExpr": "{'FS':'F Scatter','FA':'F Absorbance','AS':'AP Scatter','AA':'AP Absrobance','T':'Temp.'}[datum.label]",
                               "encode": {"symbols": {"update": {"strokeCap": {"signal": "datum.value === 'AS' ? 'round' : 'butt'"}}}}}},
          "strokeDash": {"field": "s", "type": "nominal", "scale": {"domain": ["FS", "FA", "AS", "AA", "T"], "range": [[1, 0], [8, 5], [0.1, 6.5], [9, 4, 2, 4], [5, 3]]}}
        }
      },
      {
        "transform": [{"filter": "datum.s === 'AS'"}],
        "mark": {"type": "line", "strokeWidth": 3.5, "strokeCap": "round"},
        "encoding": {
          "x": {"field": "t", "type": "quantitative"},
          "y": {"field": "v", "type": "quantitative"},
          "color": {"field": "s", "type": "nominal"},
          "strokeDash": {"field": "s", "type": "nominal"}
        }
      }
    ]
  },
  {
    "transform": [{"filter": "datum.s === 'T'"}],
    "mark": {"type": "line", "strokeWidth": 2},
    "encoding": {
      "x": {"field": "t", "type": "quantitative"},
      "y": {"field": "v", "type": "quantitative", "scale": {"domain": [0, 350], "nice": false},
            "axis": {"orient": "right", "values": [0, 50, 100, 150, 200, 250, 300, 350], "grid": false, "ticks": true, "tickSize": 6, "labelPadding": 12, "title": "Temperature (ºC)", "titleAngle": 270, "titlePadding": 57}},
      "color": {"field": "s", "type": "nominal"},
      "strokeDash": {"field": "s", "type": "nominal"}
    }
  }
],
"resolve": {"scale": {"y": "independent"}}
}
